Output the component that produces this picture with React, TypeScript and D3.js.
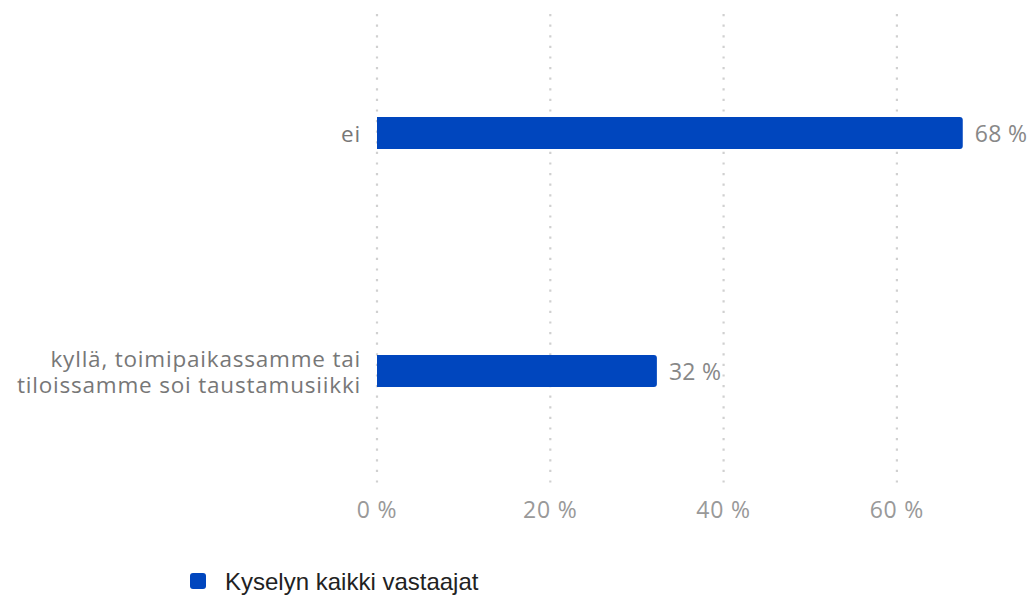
import React from "react";
import * as d3 from "d3";

const categories = ["ei", "kyllä, toimipaikassamme tai tiloissamme soi taustamusiikki"];
const categoryLines = [["ei"], ["kyllä, toimipaikassamme tai", "tiloissamme soi taustamusiikki"]];
const values = [67.6, 32.3];
const valueLabels = ["68 %", "32 %"];
const ticks = [0, 20, 40, 60];
const seriesName = "Kyselyn kaikki vastaajat";

const W = 1035;
const H = 595;
const left = 377;
const top = 14;
const bottom = 490;

export default function App() {
  const x = d3.scaleLinear().domain([0, 20]).range([left, left + 173.3]);
  const y = d3.scaleBand().domain(categories).range([top, bottom]).paddingInner(0.865).paddingOuter(0.432);
  const barH = 32;
  const labelFont = "'Open Sans', 'Noto Sans', sans-serif";
  return (
    <svg width={W} height={H} style={{ position: "absolute", left: 0, top: 0, background: "#fff" }}>
      {ticks.map((t) => (
        <g key={t}>
          <line x1={x(t)} x2={x(t)} y1={top} y2={bottom} stroke="#d0d0d0" strokeWidth={2.2} strokeDasharray="2.2,8.4" />
          <text
            x={x(t)}
            y={509}
            textAnchor="middle"
            dominantBaseline="central"
            fontFamily={labelFont}
            fontSize={23}
            letterSpacing={0.8}
            fill="#999"
          >
            {t} %
          </text>
        </g>
      ))}
      {categories.map((c, i) => {
        const cy = (y(c) as number) + y.bandwidth() / 2;
        const lines = categoryLines[i];
        const lh = 26;
        const w = x(values[i]) - x(0);
        const r = 3;
        const x0 = x(0);
        const y0 = cy - barH / 2;
        const path = `M${x0},${y0} H${x0 + w - r} Q${x0 + w},${y0} ${x0 + w},${y0 + r} V${y0 + barH - r} Q${x0 + w},${y0 + barH} ${x0 + w - r},${y0 + barH} H${x0} Z`;
        return (
          <g key={c}>
            <path d={path} fill="#0046BE" />
            <text
              textAnchor="end"
              dominantBaseline="central"
              fontFamily={labelFont}
              fontSize={22.5}
              letterSpacing={0.8}
              fill="#777"
            >
              {lines.map((ln, j) => (
                <tspan key={j} x={361} y={cy + (j - (lines.length - 1) / 2) * lh}>
                  {ln}
                </tspan>
              ))}
            </text>
            <text
              x={x0 + w + 12}
              y={cy}
              dominantBaseline="central"
              fontFamily={labelFont}
              fontSize={23}
              letterSpacing={0.3}
              fill="#888"
            >
              {valueLabels[i]}
            </text>
          </g>
        );
      })}
      <rect x={190} y={573} width={16} height={16} rx={3} fill="#0046BE" />
      <text x={225} y={581} dominantBaseline="central" fontFamily="'Liberation Sans', Arial, sans-serif" fontSize={24} fill="#222">
        {seriesName}
      </text>
    </svg>
  );
}
